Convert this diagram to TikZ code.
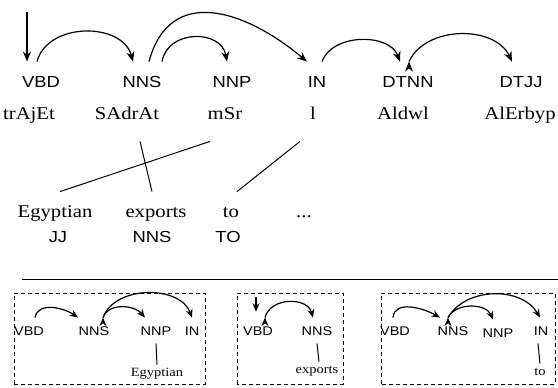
\documentclass[tikz,border=0pt]{standalone}
\usepackage{fontspec}
\setmainfont{Liberation Serif}[FakeStretch=1.15]
\setsansfont{Liberation Sans}[FakeStretch=1.15]
\usetikzlibrary{arrows.meta}
\tikzset{
  tag/.style={font=\fontsize{8}{9}\sffamily,anchor=base,inner xsep=1pt,inner ysep=6.5pt,text height=6pt,text depth=0pt},
  word/.style={font=\fontsize{9}{10}\rmfamily,anchor=base,inner xsep=0pt,inner ysep=11pt,text height=6pt,text depth=0pt},
  gloss/.style={font=\fontsize{9}{10}\rmfamily,anchor=base,inner ysep=6.5pt,text height=6pt,text depth=0pt},
  stag/.style={font=\fontsize{6.3}{7}\sffamily,anchor=base,inner xsep=0.5pt,inner ysep=4pt,text height=4.5pt,text depth=0pt},
  sword/.style={font=\fontsize{6.3}{7}\rmfamily,anchor=base,inner ysep=2pt,text height=3.5pt,text depth=0pt},
  dep/.style={draw,->,>={Stealth[length=5pt,width=4pt]},line width=0.6pt},
  sdep/.style={dep,>={Stealth[length=4.2pt,width=3.5pt]}},
  link/.style={draw,line width=0.5pt},
  frame/.style={draw,dash pattern=on 2pt off 1.5pt,line width=0.5pt},
}
\begin{document}
\begin{tikzpicture}[x=0.5pt,y=0.5pt]
\useasboundingbox (0,0) rectangle (558,387);

% source tree
\node[tag] (vbd) at (41,300) {VBD};
\node[tag] (nns) at (142,300) {NNS};
\node[tag] (nnp) at (232,300) {NNP};
\node[tag] (prep) at (317,300) {IN};
\node[tag] (dtnn) at (408,300) {DTNN};
\node[tag] (dtjj) at (521,300) {DTJJ};

\node[word] (trajet) at (29,268) {trAjEt};
\node[word] (sadrat) at (127,268) {SAdrAt};
\node[word] (msr) at (225,268) {mSr};
\node[word] (lw) at (313,268) {l};
\node[word] (aldwl) at (403,268) {Aldwl};
\node[word] (alerbyp) at (520,268) {AlErbyp};

\coordinate (root) at (27,375);
\path[dep]
(root) edge ([xshift=-7pt]vbd.north)
([xshift=-2pt]vbd.north) edge[bend left=75,looseness=1.1] ([xshift=-4.5pt]nns.north)
([xshift=10pt]nns.north) edge[bend left=80,looseness=1.3] ([xshift=-2.5pt]nnp.north)
([xshift=3.5pt]nns.north) edge[out=75,in=140,looseness=1.3] ([xshift=-5pt]prep.north)
([xshift=2.5pt]prep.north) edge[bend left=70] ([xshift=-4pt]dtnn.north)
([xshift=0.5pt]dtnn.north) edge[bend left=65] ([xshift=-4.5pt]dtjj.north);

% target words
\node[gloss] (egy) at (55,170) {Egyptian};
\node[gloss] (exp) at (156,170) {exports};
\node[gloss] (to) at (231,170) {to};
\node[gloss] (dots) at (304,170) {...};

\node[tag] (jj) at (58,145) {JJ};
\node[tag] (nnsE) at (152,145) {NNS};
\node[tag] (toE) at (228,145) {TO};

\path[link]
([xshift=-7.5pt]msr.south) edge ([xshift=2.5pt]egy.north)
([xshift=6.5pt]sadrat.south) edge ([xshift=-2pt]exp.north)
([xshift=-6.5pt]lw.south) edge ([xshift=3pt]to.north);

\draw[line width=0.5pt] (22,108) -- (558,108);

% fragments
\draw[frame] (14,3) rectangle (205,94);
\draw[frame] (237,3) rectangle (343,94);
\draw[frame] (381,3) rectangle (555,94);

\node[stag] (vbdA) at (29,52) {VBD};
\node[stag] (nnsA) at (94,52) {NNS};
\node[stag] (nnpA) at (156,52) {NNP};
\node[stag] (prepA) at (192,52) {IN};
\node[sword] (egyA) at (157,11) {Egyptian};
\path[sdep]
([xshift=3pt]vbdA.north) edge[out=80,in=145] ([xshift=-8pt]nnsA.north)
([xshift=4.5pt]nnsA.north) edge[out=70,in=130] ([xshift=-5.5pt]nnpA.north)
([xshift=4.5pt]nnsA.north) edge[bend left=70] (prepA.north);
\path[link] (nnpA.south) edge (egyA.north);

\node[stag] (vbdB) at (258,52) {VBD};
\node[stag] (nnsB) at (317,52) {NNS};
\node[sword] (expB) at (317,14) {exports};
\coordinate (rootB) at (256,90);
\path[sdep]
(rootB) edge[shorten >=3pt] ([xshift=-1pt]vbdB.north)
([xshift=3.5pt]vbdB.north) edge[bend left=75,looseness=1.15] ([xshift=-2pt]nnsB.north);
\path[link] (nnsB.south) edge ([xshift=1pt]expB.north);

\node[stag] (vbdC) at (395,52) {VBD};
\node[stag] (nnsC) at (453,52) {NNS};
\node[stag] (nnpC) at (498,50) {NNP};
\node[stag] (prepC) at (541,52) {IN};
\node[sword] (toC) at (540,12) {to};
\path[sdep]
([xshift=-1pt]vbdC.north) edge[out=85,in=150] ([xshift=-6.5pt]nnsC.north)
([xshift=-2.5pt]nnsC.north) edge[bend left=65] ([xshift=-2.5pt]nnpC.north)
([xshift=-2.5pt]nnsC.north) edge[bend left=60] ([xshift=-0.5pt]prepC.north);
\path[link] ([xshift=-1.5pt]prepC.south) edge (toC.north);

\end{tikzpicture}
\end{document}
